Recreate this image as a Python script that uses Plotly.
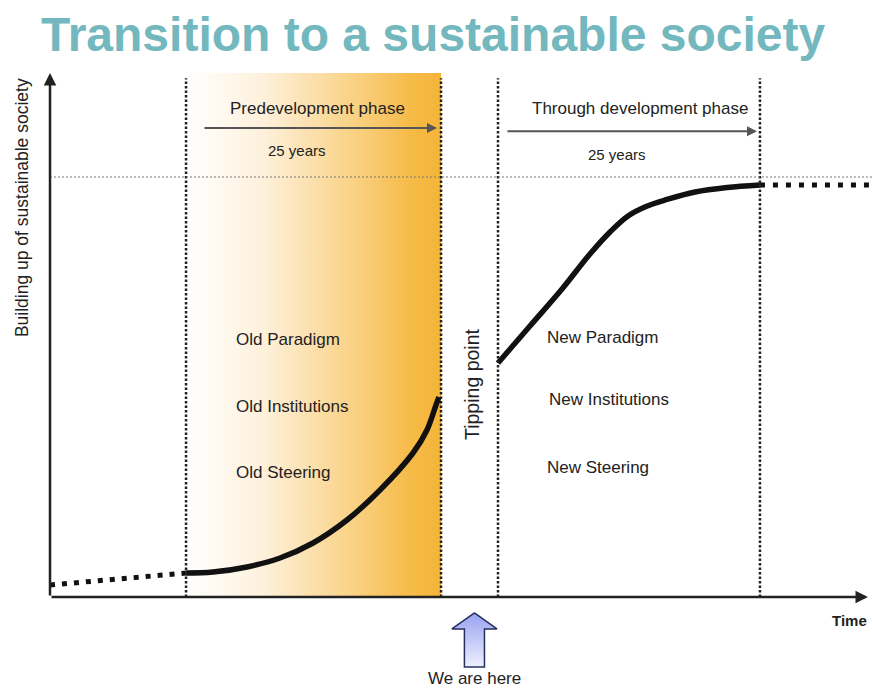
import plotly.graph_objects as go

# ---------------- data ----------------
phase_bounds = [16.55, 47.57, 54.50, 86.37]   # start/end of the two phases (time units)
target_level = 80.15                           # sustainable-society level

lead_in_x = [0.0, 16.55]
lead_in_y = [2.29, 4.58]

pre_x = [16.55, 19.83, 23.97, 27.98, 32.00, 36.13, 40.15, 44.16, 45.86, 46.96, 47.32]
pre_y = [4.58, 4.77, 5.73, 7.44, 10.31, 14.69, 20.42, 27.48, 31.87, 36.64, 38.17]

post_x = [54.50, 58.39, 62.29, 65.69, 68.13, 70.32, 72.51, 75.06, 78.47, 82.36, 86.37]
post_y = [44.66, 51.72, 58.78, 65.46, 69.66, 72.71, 74.52, 75.86, 77.29, 78.15, 78.63]

tail_x = [86.37, 100.0]
tail_y = [78.63, 78.63]

phase_names = ["Predevelopment phase", "Through development phase"]
phase_durations = ["25 years", "25 years"]
old_labels = ["Old Paradigm", "Old Institutions", "Old Steering"]
new_labels = ["New Paradigm", "New Institutions", "New Steering"]

FONT = "Liberation Sans, Arial, sans-serif"
TXT = "#222222"

fig = go.Figure()

# gradient band of the predevelopment phase
fig.add_trace(go.Scatter(
    x=[phase_bounds[0], phase_bounds[1], phase_bounds[1], phase_bounds[0], phase_bounds[0]],
    y=[0, 0, 100, 100, 0],
    mode="lines", line=dict(width=0), fill="toself",
    fillgradient=dict(type="horizontal",
                      colorscale=[[0, "#FFFFFF"], [0.3, "#FEF1DC"], [0.65, "#FAD286"], [0.88, "#F6BB48"], [1, "#F5B43A"]]),
    hoverinfo="skip", showlegend=False))

# curve pieces
fig.add_trace(go.Scatter(x=lead_in_x, y=lead_in_y, mode="lines",
                         line=dict(color="#111111", width=5, dash="5px,7px"),
                         hoverinfo="skip", showlegend=False))
fig.add_trace(go.Scatter(x=pre_x, y=pre_y, mode="lines",
                         line=dict(color="#111111", width=5.5, shape="spline"),
                         hoverinfo="skip", showlegend=False))
fig.add_trace(go.Scatter(x=post_x, y=post_y, mode="lines",
                         line=dict(color="#111111", width=5.5, shape="spline"),
                         hoverinfo="skip", showlegend=False))
fig.add_trace(go.Scatter(x=tail_x, y=tail_y, mode="lines",
                         line=dict(color="#111111", width=5, dash="5px,8px"),
                         hoverinfo="skip", showlegend=False))

# "we are here" block arrow under the tipping point
cx = (phase_bounds[1] + phase_bounds[2]) / 2 + 0.6
hw, sw = 2.74, 1.22
tip, base, bottom = -3.05, -6.1, -13.36
fig.add_trace(go.Scatter(
    x=[cx, cx + hw, cx + sw, cx + sw, cx - sw, cx - sw, cx - hw, cx],
    y=[tip, base, base, bottom, bottom, base, base, tip],
    mode="lines", line=dict(color="#26305E", width=1.5), fill="toself",
    fillgradient=dict(type="vertical", colorscale=[[0, "#EEF0FD"], [1, "#98A2F2"]]),
    hoverinfo="skip", showlegend=False))

shapes = []
for xb in phase_bounds:
    shapes.append(dict(type="line", x0=xb, x1=xb, y0=0, y1=99.0, xref="x", yref="y",
                       line=dict(color="#222222", width=2.5, dash="2.5px,2px")))
shapes.append(dict(type="line", x0=0, x1=100, y0=target_level, y1=target_level, xref="x", yref="y",
                   line=dict(color="#777777", width=1, dash="2px,2px")))

ann = []
# axes as arrows
ann.append(dict(x=99.51, y=0, ax=0, ay=0, xref="x", yref="y", axref="x", ayref="y", text="",
                showarrow=True, arrowhead=2, arrowsize=1, arrowwidth=2.5, arrowcolor="#222222"))
ann.append(dict(x=0, y=100, ax=0, ay=0, xref="x", yref="y", axref="x", ayref="y", text="",
                showarrow=True, arrowhead=2, arrowsize=1, arrowwidth=2.5, arrowcolor="#222222"))
# phase arrows
ann.append(dict(x=47.08, y=89.5, ax=18.61, ay=89.5, xref="x", yref="y", axref="x", ayref="y", text="",
                showarrow=True, arrowhead=2, arrowsize=1, arrowwidth=2, arrowcolor="#555555"))
ann.append(dict(x=86.01, y=88.9, ax=55.47, ay=88.9, xref="x", yref="y", axref="x", ayref="y", text="",
                showarrow=True, arrowhead=2, arrowsize=1, arrowwidth=2, arrowcolor="#555555"))

def label(text, x, y, size, xanchor="center", angle=0, color=TXT):
    ann.append(dict(x=x, y=y, xref="x", yref="y", text=text, showarrow=False,
                    xanchor=xanchor, yanchor="middle", textangle=angle,
                    font=dict(family=FONT, size=size, color=color)))

label(phase_names[0], 32.6, 93.3, 17)
label(phase_durations[0], 30.05, 85.3, 15)
label(phase_names[1], 71.78, 93.3, 17)
label(phase_durations[1], 68.98, 84.5, 15)

for t, yy in zip(old_labels, [49.05, 36.45, 23.85]):
    label(t, 22.38, yy, 17, xanchor="left")
for t, xx, yy in zip(new_labels, [60.22, 60.46, 60.22], [49.43, 37.6, 24.8]):
    label(t, xx, yy, 17, xanchor="left")

label("Tipping point", 51.34, 40.65, 19.5, angle=-90)
label("Building up of sustainable society", -3.41, 74.4, 17.5, angle=-90)
label("<b>Time</b>", 97.3, -4.39, 15)
label("We are here", 51.7, -15.46, 17)
label("<b>Transition to a sustainable society</b>", 46.65, 107.4, 48, color="#72B8BE")

fig.update_layout(
    width=872, height=690,
    margin=dict(l=0, r=0, t=0, b=0),
    paper_bgcolor="white", plot_bgcolor="white",
    xaxis=dict(range=[-6.083, 100], visible=False, fixedrange=True),
    yaxis=dict(range=[-17.748, 113.931], visible=False, fixedrange=True),
    shapes=shapes, annotations=ann, showlegend=False,
)

fig.write_html("out.html", config={"displayModeBar": False},
               post_script="document.body.style.margin='0';document.body.style.overflow='hidden';")
